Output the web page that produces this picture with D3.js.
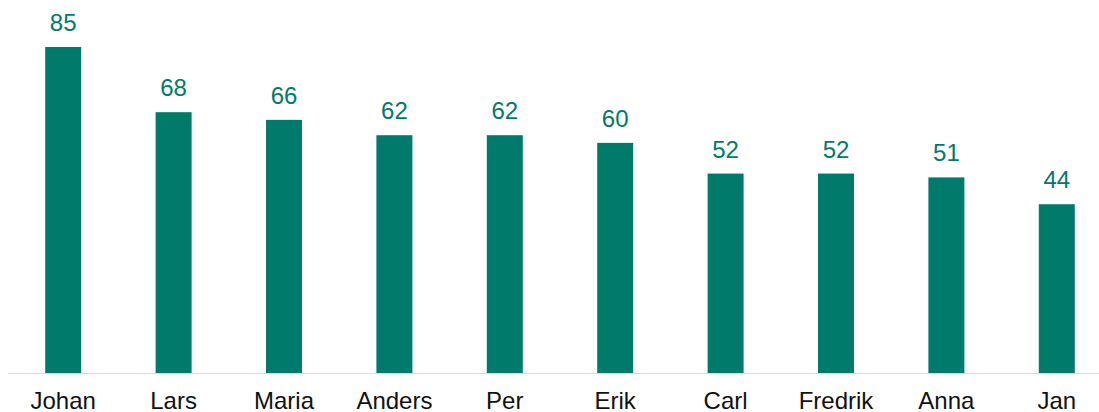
<!DOCTYPE html>
<html>
<head>
<meta charset="utf-8">
<script src="https://cdn.jsdelivr.net/npm/d3@7"></script>
<style>
    body { margin: 0; background: #ffffff; }
    text { font-family: "Liberation Sans", Arial, sans-serif; }
</style>
</head>
<body>
<div id="chart"></div>
<script>
// data
var names = ["Johan", "Lars", "Maria", "Anders", "Per", "Erik", "Carl", "Fredrik", "Anna", "Jan"];
var counts = [85, 68, 66, 62, 62, 60, 52, 52, 51, 44];

var width = 1099, height = 412;
var barColor = "#007a6a";

var svg = d3.select("#chart").append("svg")
    .attr("width", width)
    .attr("height", height);

var data = names.map(function (n, i) {
    return {name: n, value: counts[i]};
});

// band scale runs a little past the right edge, like the original
var x = d3.scaleBand()
    .domain(names)
    .range([8, 1112])
    .paddingInner(0.674)
    .paddingOuter(0.337);

var y = d3.scaleLinear()
    .domain([0, 85])
    .range([373, 47]);

svg.selectAll("rect.bar")
    .data(data)
    .enter()
    .append("rect")
    .attr("class", "bar")
    .attr("x", function (d) { return x(d.name); })
    .attr("y", function (d) { return y(d.value); })
    .attr("width", x.bandwidth())
    .attr("height", function (d) { return y(0) - y(d.value); })
    .attr("fill", barColor);

// baseline
svg.append("line")
    .attr("x1", 8)
    .attr("x2", width)
    .attr("y1", y(0) + 0.5)
    .attr("y2", y(0) + 0.5)
    .attr("stroke", "#d9d9d9")
    .attr("stroke-width", 1);

// value labels
svg.selectAll("text.value")
    .data(data)
    .enter()
    .append("text")
    .attr("class", "value")
    .attr("x", function (d) { return x(d.name) + x.bandwidth() / 2; })
    .attr("y", function (d) { return y(d.value) - 16; })
    .attr("text-anchor", "middle")
    .attr("font-size", 24)
    .attr("fill", barColor)
    .text(function (d) { return d.value; });

// category labels
svg.selectAll("text.cat")
    .data(data)
    .enter()
    .append("text")
    .attr("class", "cat")
    .attr("x", function (d) { return x(d.name) + x.bandwidth() / 2; })
    .attr("y", 409)
    .attr("text-anchor", "middle")
    .attr("font-size", 24)
    .attr("fill", "#111111")
    .text(function (d) { return d.name; });
</script>
</body>
</html>
